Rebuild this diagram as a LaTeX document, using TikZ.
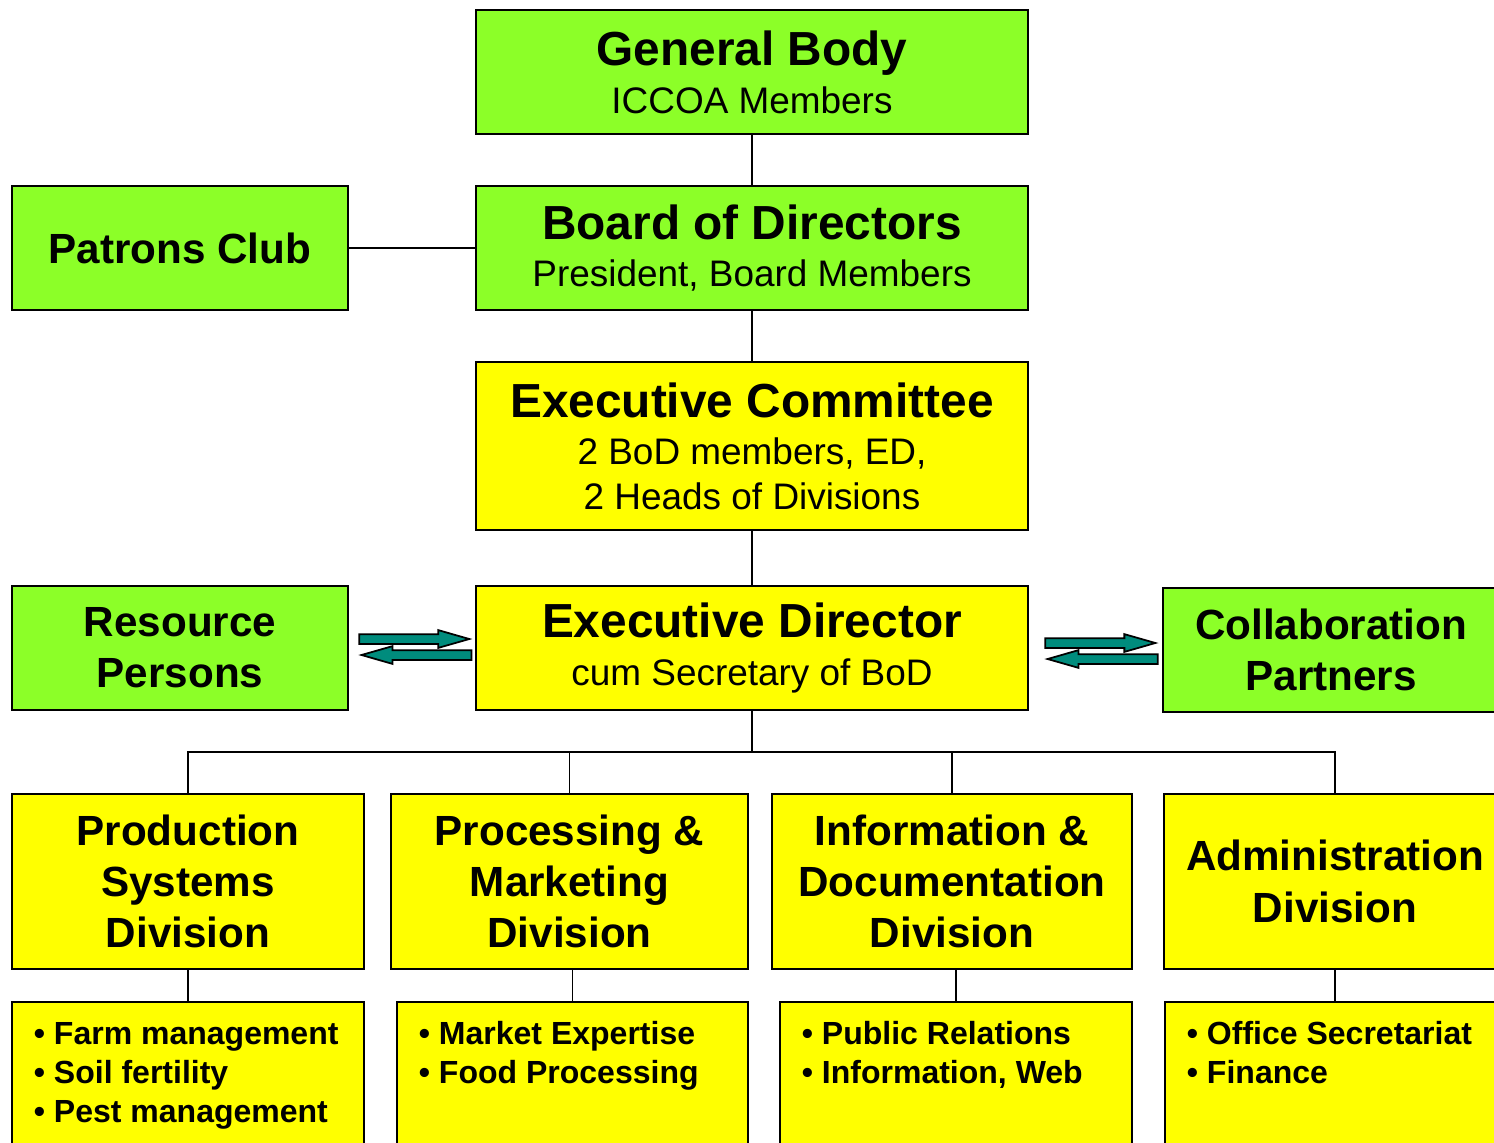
\documentclass[tikz,border=0pt]{standalone}
\usepackage{fontspec}
\setmainfont{Liberation Sans}
\usetikzlibrary{positioning,shapes.arrows,calc}
\definecolor{orggreen}{RGB}{140,255,40}
\definecolor{orgyellow}{RGB}{255,255,0}
\definecolor{orgteal}{RGB}{0,140,125}
\newcommand{\headtxt}{\fontsize{13.6}{16}\selectfont\bfseries}
\newcommand{\subtxt}{\fontsize{10.5}{12.6}\selectfont}
\newcommand{\divtxt}{\fontsize{12}{14.6}\selectfont\bfseries}
\newcommand{\itemtxt}{\fontsize{9.1}{11.1}\selectfont\bfseries}

\begin{document}
\begin{tikzpicture}[x=0.01cm,y=-0.01cm,
  box/.style={draw=black,line width=0.7pt,align=center,inner sep=0pt},
  widebox/.style={box,minimum width=5.52cm,minimum height=1.24cm,font=\subtxt},
  sidebox/.style={box,fill=orggreen,minimum width=3.36cm,minimum height=1.24cm,font=\divtxt},
  divbox/.style={box,fill=orgyellow,minimum height=1.75cm,font=\divtxt},
  listbox/.style={box,fill=orgyellow,anchor=north,align=left,inner xsep=0.22cm,font=\itemtxt},
  link/.style={line width=0.45pt},
  mainlink/.style={line width=0.8pt},
  fatarrow/.style={single arrow,draw=black,line width=0.5pt,fill=orgteal,inner sep=0pt,
    minimum height=1.10cm,text height=0.04cm,text depth=0.04cm,
    single arrow head extend=0.04cm,single arrow tip angle=32}]
                \useasboundingbox (0,0) rectangle (1494,1142);
                \clip (0,0) rectangle (1494,1142);
                \node[widebox,fill=orggreen] (gb) at (752,72) {\headtxt General Body\\[1pt] ICCOA Members};
                \node[widebox,fill=orggreen] (bod) at (752,248) {\headtxt Board of Directors\\[1pt] President, Board Members};
                \node[sidebox] (pc) at (180,248) {Patrons Club};
                \node[widebox,fill=orgyellow,minimum height=1.68cm] (ec) at (752,446) {\headtxt Executive Committee\\[1pt] 2 BoD members, ED,\\ 2 Heads of Divisions};
                \node[widebox,fill=orgyellow] (ed) at (752,648) {\headtxt Executive Director\\[1pt] cum Secretary of BoD};
                \node[sidebox] (rp) at (180,648) {Resource\\ Persons};
                \node[sidebox] (cp) at (1331,650) {Collaboration\\ Partners};
                \node[divbox,minimum width=3.52cm] (psd) at (188,881.5) {Production\\ Systems\\ Division};
                \node[divbox,minimum width=3.57cm] (pmd) at (569.5,881.5) {Processing \&\\ Marketing\\ Division};
                \node[divbox,minimum width=3.60cm] (idd) at (952,881.5) {Information \&\\ Documentation\\ Division};
                \node[divbox,minimum width=3.42cm] (add) at (1335,881.5) {Administration\\ Division};
                \node[listbox] (psl) at (188,1001) {\parbox[t][1.6cm][t]{3.08cm}{\raggedright\rule{0pt}{0.42cm}• Farm management\\ • Soil fertility\\ • Pest management}};
                \node[listbox] (pml) at (572.5,1001) {\parbox[t][1.6cm][t]{3.07cm}{\raggedright\rule{0pt}{0.42cm}• Market Expertise\\ • Food Processing}};
                \node[listbox] (idl) at (956,1001) {\parbox[t][1.6cm][t]{3.08cm}{\raggedright\rule{0pt}{0.42cm}• Public Relations\\ • Information, Web}};
                \node[listbox] (adl) at (1335,1001) {\parbox[t][1.6cm][t]{2.96cm}{\raggedright\rule{0pt}{0.42cm}• Office Secretariat\\ • Finance}};
                \node[fatarrow,anchor=tail] (rp2ed) at ($(rp.east)+(9,-9)$) {};
                \node[fatarrow,anchor=tip,shape border rotate=180] (ed2rp) at ($(rp.east)+(9,7)$) {};
                \node[fatarrow,anchor=tail] (ed2cp) at ($(ed.east)+(15,-5)$) {};
                \node[fatarrow,anchor=tip,shape border rotate=180] (cp2ed) at ($(ed.east)+(15,11)$) {};
                \coordinate (bus) at (752,752);
                \draw[link] (gb) -- (bod);
                \draw[link] (pc) -- (bod);
                \draw[link] (bod) -- (ec);
                \draw[link] (ec) -- (ed);
                \draw[mainlink] (ed) -- (bus);
                \draw[link] (psd.north) |- (bus) -| (add.north);
                \draw[mainlink] (pmd.north |- bus) -- (idd.north |- bus);
                \draw[link] (pmd.north) -- (pmd.north |- bus);
                \draw[link] (idd.north) -- (idd.north |- bus);
                \draw[link] (psd) -- (psl);
                \draw[link] (pml.north) -- (pml.north |- pmd.south);
                \draw[link] (idl.north) -- (idl.north |- idd.south);
                \draw[link] (add) -- (adl);
            \end{tikzpicture}
\end{document}
